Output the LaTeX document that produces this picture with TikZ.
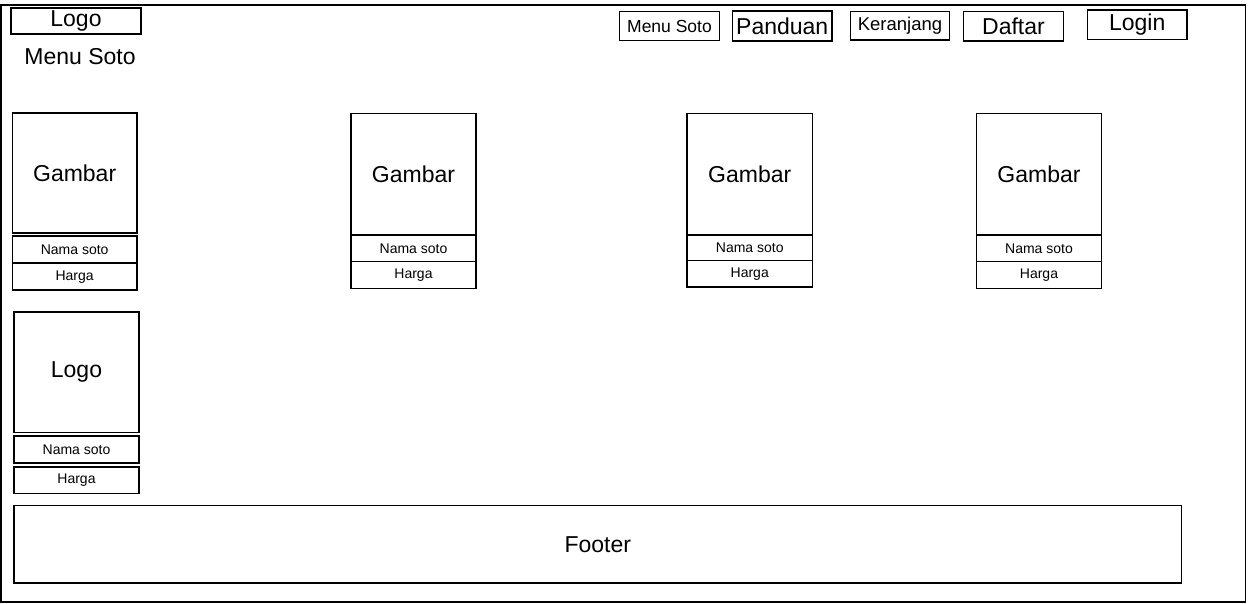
\documentclass[tikz,border=0pt]{standalone}
\usepackage{fontspec}
\setmainfont{Liberation Sans}
\newcommand{\fz}[1]{\fontsize{#1}{#1}\selectfont}
\tikzset{
  wf/.style={draw=black, line width=1.6pt, fill=white, inner sep=0pt, outer sep=0pt, anchor=center, text=black},
  big/.style={font=\fz{23}},
  small/.style={font=\fz{14}},
}
% name, x1, y1, x2, y2, style, text
\newcommand{\wfbox}[7]{%
  \node[wf,#6,minimum width={(#4-#2)*1pt},minimum height={(#5-#3)*1pt}] (#1) at ({(#2+#4)/2},{(#3+#5)/2}) {#7};}
\begin{document}
\begin{tikzpicture}[x=1pt,y=-1pt]
\useasboundingbox (0,0) rectangle (1251,603);
\draw[line width=1.6pt] (1.3,5) rectangle (1245.5,602);
% header
\wfbox{logo}{11}{8}{141}{34}{big}{Logo}
\node[big, inner sep=0pt] (title) at (80,57) {Menu Soto};
% nav
\wfbox{navmenu}{619.5}{11.5}{719.5}{40.5}{font=\fz{17.5}}{Menu Soto}
\wfbox{navpanduan}{732.5}{11}{832}{41}{big}{Panduan}
\wfbox{navkeranjang}{850.5}{11.5}{949.5}{40}{font=\fz{18.5}}{Keranjang}
\wfbox{navdaftar}{963.5}{11.5}{1063.5}{41}{big}{Daftar}
\wfbox{navlogin}{1087.5}{10}{1187}{39.5}{big}{Login}
% card 1
\wfbox{g1}{12.3}{113}{137}{233}{big}{Gambar}
\wfbox{n1}{12.3}{236}{137}{262.5}{small}{Nama soto}
\wfbox{h1}{12.3}{263.5}{137}{290}{small}{Harga}
% card 2
\wfbox{g2}{351}{113.5}{476}{235}{big}{Gambar}
\wfbox{n2}{351}{235}{476}{261.5}{small}{Nama soto}
\wfbox{h2}{351}{261.5}{476}{288.5}{small}{Harga}
% card 3
\wfbox{g3}{687}{113.5}{812.5}{235}{big}{Gambar}
\wfbox{n3}{687}{235}{812.5}{260.5}{small}{Nama soto}
\wfbox{h3}{687}{260.5}{812.5}{287}{small}{Harga}
% card 4
\wfbox{g4}{976.5}{113.5}{1101.5}{235}{big}{Gambar}
\wfbox{n4}{976.5}{235}{1101.5}{261.5}{small}{Nama soto}
\wfbox{h4}{976.5}{261.5}{1101.5}{288.5}{small}{Harga}
% card 5
\wfbox{g5}{14}{312}{139}{432.5}{big}{Logo}
\wfbox{n5}{14}{436}{139}{463}{small}{Nama soto}
\wfbox{h5}{14}{467}{139}{493.5}{small}{Harga}
% footer
\wfbox{footer}{14}{505.5}{1181.5}{583}{big}{Footer}
\end{tikzpicture}
\end{document}
